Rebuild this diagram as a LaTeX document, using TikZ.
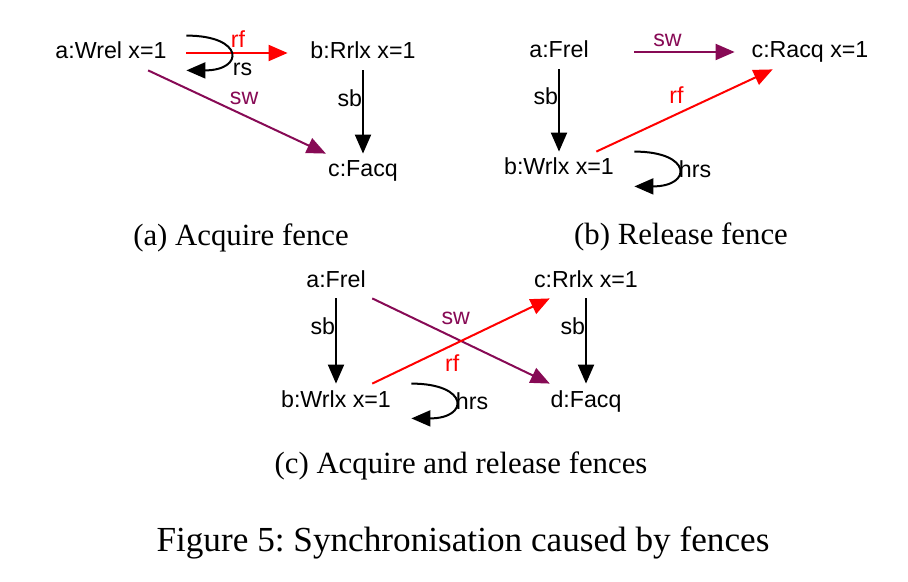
\documentclass[tikz,border=0pt]{standalone}
\usepackage{fontspec}
\setmainfont{Liberation Serif}
\setsansfont{Liberation Sans}
\usetikzlibrary{arrows.meta}
\definecolor{swpurple}{RGB}{135,10,85}
\frenchspacing

\begin{document}
\begin{tikzpicture}[x=0.5pt, y=-0.5pt,
  every node/.style={font=\sffamily\fontsize{11.6}{14}\selectfont, inner sep=0pt},
  ev/.style={minimum width=75pt, minimum height=17pt, text height=8.5pt, text depth=2.5pt},
  captext/.style={font=\rmfamily\fontsize{15.4}{18}\selectfont, anchor=base},
  rel/.style={->, line width=1pt},
  >={Triangle[length=9.5pt, width=8pt]}]
\useasboundingbox (0,0) rectangle (908,582);

% (a) Acquire fence
\node[ev] (pa) at (111, 53) {a:Wrel x=1};
\node[ev] (pb) at (363, 53) {b:Rrlx x=1};
\node[ev] (pc) at (363, 171) {c:Facq};

\draw[rel, red] (pa) -- node[pos=0.51, above=2pt]{rf} (pb);
\draw[rel] (pa.north east) .. controls +(58,0) and +(58,0) .. node[pos=0.5, anchor=north west, xshift=1pt, yshift=-4.5pt]{rs} (pa.south east);
\draw[rel, swpurple] (pa) -- node[pos=0.54, above=5pt]{sw} (pc);
\draw[rel] (pb) -- node[pos=0.33, left]{sb} (pc);

% (b) Release fence
\node[ev] (qa) at (559, 52) {a:Frel};
\node[ev] (qb) at (559, 169) {b:Wrlx x=1};
\node[ev] (qc) at (810, 52) {c:Racq x=1};

\draw[rel, swpurple] (qa) -- node[pos=0.33, above=2pt]{sw} (qc);
\draw[rel] (qa) -- node[pos=0.33, left]{sb} (qb);
\draw[rel, red] (qb) -- node[pos=0.455, above=5pt]{rf} (qc);
\draw[rel] (qb.north east) .. controls +(58,0) and +(58,0) .. node[pos=0.5, anchor=west]{hrs} (qb.south east);

% (c) Acquire and release fences
\node[ev] (ra) at (336, 281) {a:Frel};
\node[ev] (rb) at (336, 401) {b:Wrlx x=1};
\node[ev] (rc) at (586, 281) {c:Rrlx x=1};
\node[ev] (rd) at (586, 401) {d:Facq};

\draw[rel] (ra) -- node[pos=0.33, left]{sb} (rb);
\draw[rel] (rc) -- node[pos=0.33, left]{sb} (rd);
\draw[rel, swpurple] (ra) -- node[pos=0.47, above=6.5pt]{sw} (rd);
\draw[rel, red] (rb) -- node[pos=0.45, below=4pt]{rf} (rc);
\draw[rel] (rb.north east) .. controls +(58,0) and +(58,0) .. node[pos=0.5, anchor=west]{hrs} (rb.south east);

% captions
\node[captext] (capa) at (241, 246) {(a) Acquire fence};
\node[captext] (capb) at (681, 245) {(b) Release fence};
\node[captext] (capc) at (461, 473) {(c) Acquire and release fences};
\node[captext, font=\rmfamily\fontsize{17.6}{21}\selectfont] (fig) at (463, 551) {Figure 5: Synchronisation caused by fences};
\end{tikzpicture}
\end{document}
